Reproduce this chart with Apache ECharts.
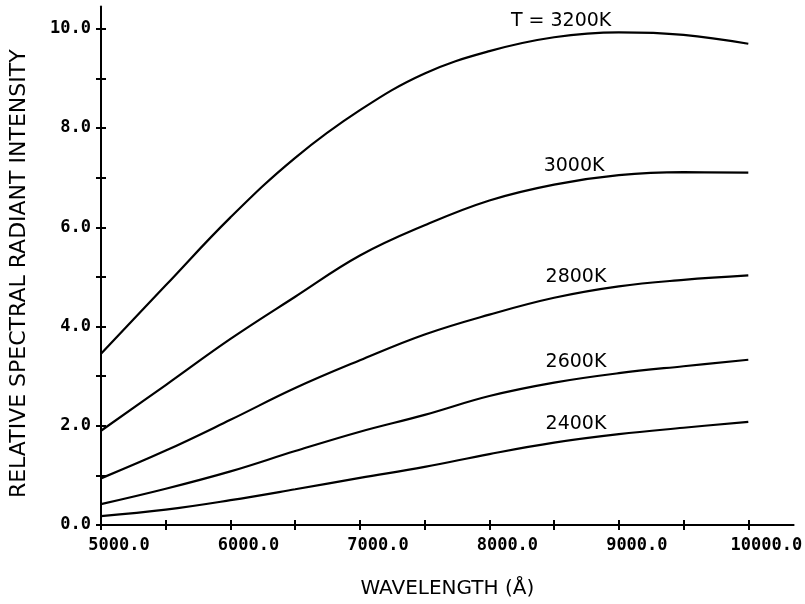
<!DOCTYPE html>
<html>
<head>
<meta charset="utf-8">
<script src="https://cdn.jsdelivr.net/npm/echarts@6/dist/echarts.min.js"></script>
<style>html,body{margin:0;padding:0;background:#fff}#c{width:805px;height:604px}</style>
</head>
<body>
<div id="c"></div>
<script>
var wavelengths = [5000, 5500, 6000, 6500, 7000, 7500, 8000, 8500, 9000, 9500, 10000];
var t3200 = [3.45, 4.83, 6.20, 7.40, 8.36, 9.10, 9.55, 9.83, 9.93, 9.88, 9.70];
var t3000 = [1.90, 2.82, 3.75, 4.60, 5.43, 6.04, 6.54, 6.86, 7.05, 7.11, 7.10];
var t2800 = [0.94, 1.50, 2.12, 2.76, 3.32, 3.84, 4.24, 4.58, 4.81, 4.94, 5.03];
var t2600 = [0.42, 0.73, 1.08, 1.49, 1.88, 2.22, 2.60, 2.87, 3.06, 3.20, 3.33];
var t2400 = [0.18, 0.31, 0.50, 0.72, 0.95, 1.17, 1.43, 1.66, 1.83, 1.96, 2.08];
var seriesNames = ['T = 3200K', '3000K', '2800K', '2600K', '2400K'];
var labelAnchors = [[8554, 10.16], [8654, 7.24], [8669, 4.99], [8669, 3.28], [8669, 2.04]];
var xTicks = [5000, 5500, 6000, 6500, 7000, 7500, 8000, 8500, 9000, 9500, 10000];
var xLabels = [5000, 6000, 7000, 8000, 9000, 10000];
var yTicks = [0, 1, 2, 3, 4, 5, 6, 7, 8, 9, 10];
var yLabels = [0, 2, 4, 6, 8, 10];

var allSeries = [t3200, t3000, t2800, t2600, t2400];
var chart = echarts.init(document.getElementById('c'), null, {renderer: 'canvas'});
function pairs(vals) { return wavelengths.map(function (w, i) { return [w, vals[i]]; }); }
var labelStyle = {fontFamily: 'DejaVu Sans Mono', fontWeight: 'bold', fontSize: 17, color: '#000'};

var series = allSeries.map(function (vals, i) {
  return {
    type: 'line', smooth: 0.4, showSymbol: false, data: pairs(vals),
    lineStyle: {color: '#000', width: 2.2},
    markPoint: {
      symbol: 'circle', symbolSize: 1, itemStyle: {color: 'rgba(0,0,0,0)'},
      label: {show: true, position: 'inside', formatter: seriesNames[i], color: '#000',
              fontFamily: 'DejaVu Sans', fontSize: 19},
      data: [{coord: labelAnchors[i]}]
    }
  };
});

function mkX(inside, main) {
  return {
    type: 'value', min: 5000, max: 10350, position: 'bottom',
    axisLine: {show: true, onZero: false, lineStyle: {color: main ? '#000' : 'rgba(0,0,0,0)', width: 2}},
    axisTick: {show: true, inside: inside, length: 5, customValues: xTicks, lineStyle: {color: '#000', width: 2}},
    axisLabel: main ? Object.assign({show: true, customValues: xLabels, margin: 12, padding: [0, 0, 0, 36],
      formatter: function (v) { return v.toFixed(1); }}, labelStyle) : {show: false},
    splitLine: {show: false},
    name: main ? 'WAVELENGTH (Å)' : '', nameLocation: 'middle', nameGap: 54,
    nameTextStyle: {fontFamily: 'DejaVu Sans', fontSize: 20, color: '#000'}
  };
}
function mkY(inside, main) {
  return {
    type: 'value', min: 0, max: 10.45, position: 'left',
    axisLine: {show: true, onZero: false, lineStyle: {color: main ? '#000' : 'rgba(0,0,0,0)', width: 2}},
    axisTick: {show: true, inside: inside, length: 5, customValues: yTicks, lineStyle: {color: '#000', width: 2}},
    axisLabel: main ? Object.assign({show: true, customValues: yLabels, margin: 10,
      formatter: function (v) { return v.toFixed(1); }}, labelStyle) : {show: false},
    splitLine: {show: false},
    name: main ? 'RELATIVE SPECTRAL RADIANT INTENSITY' : '', nameLocation: 'middle', nameGap: 71,
    nameTextStyle: {fontFamily: 'DejaVu Sans', fontSize: 22, color: '#000', padding: [0, 16, 0, 0]}
  };
}

chart.setOption({
  animation: false,
  backgroundColor: '#fff',
  grid: {left: 99, right: 10, top: 6.5, bottom: 76, containLabel: false},
  xAxis: [mkX(false, true), mkX(true, false)],
  yAxis: [mkY(false, true), mkY(true, false)],
  series: series
});
</script>
</body>
</html>
